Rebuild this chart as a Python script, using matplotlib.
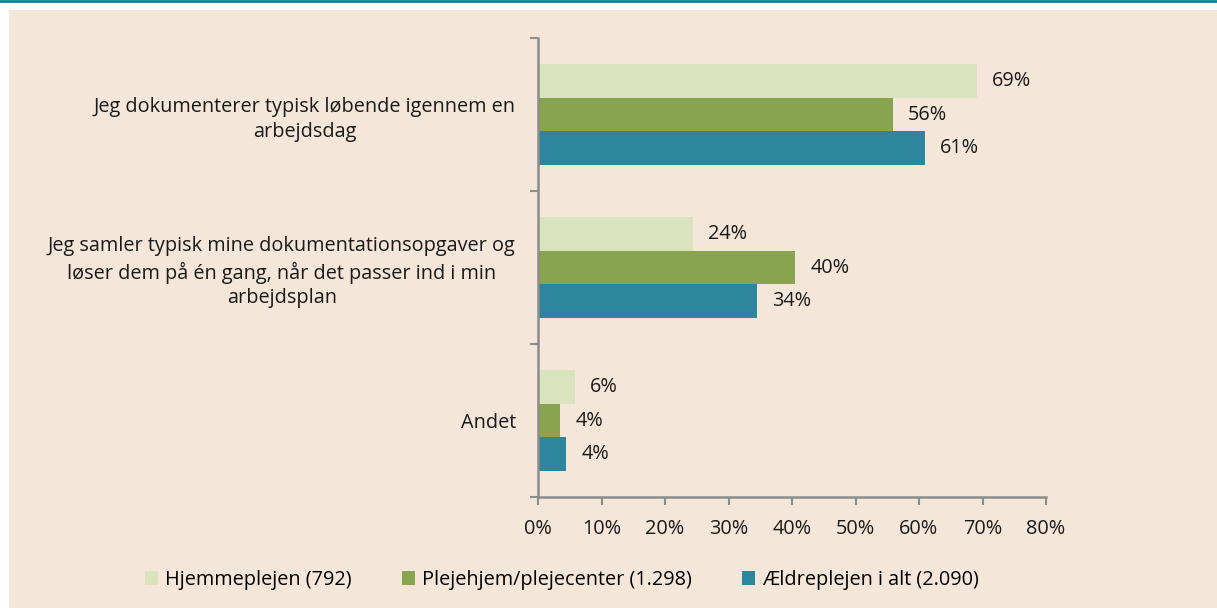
import numpy as np
import matplotlib.pyplot as plt
from matplotlib.patches import Rectangle
from matplotlib.lines import Line2D

plt.rcParams['font.family'] = ['Open Sans', 'DejaVu Sans']

categories = [
    'Jeg dokumenterer typisk løbende igennem en\narbejdsdag',
    'Jeg samler typisk mine dokumentationsopgaver og\nløser dem på én gang, når det passer ind i min\narbejdsplan',
    'Andet',
]
series = ['Hjemmeplejen (792)', 'Plejehjem/plejecenter (1.298)', 'Ældreplejen i alt (2.090)']
hjemmepleje = [69.1, 24.4, 5.8]
plejehjem = [55.9, 40.5, 3.5]
aeldrepleje = [60.9, 34.5, 4.4]
labels = [['69%', '24%', '6%'], ['56%', '40%', '4%'], ['61%', '34%', '4%']]
colors = ['#d9e4bf', '#88a44e', '#2e869e']

bg = '#f4e7da'
axcol = '#8c8c8c'
txt = '#1a1a1a'
fs = 14.3

fig = plt.figure(figsize=(12.17, 6.08), dpi=100)
fig.patches.append(Rectangle((9 / 1217, 0), 1, 1 - 10 / 608, transform=fig.transFigure,
                             facecolor=bg, edgecolor='none', zorder=-10))
fig.lines.append(Line2D([0, 1], [1 - 1 / 608, 1 - 1 / 608], transform=fig.transFigure,
                        color='#00819a', lw=2))

ax = fig.add_axes([538 / 1217, 1 - 497 / 608, 508 / 1217, 459 / 608])
ax.set_facecolor('none')

y = np.arange(len(categories))
h = 0.222
for i, vals in enumerate([hjemmepleje, plejehjem, aeldrepleje]):
    pos = y + (i - 1) * h
    ax.barh(pos, vals, height=h, color=colors[i], label=series[i])
    for p, v, t in zip(pos, vals, labels[i]):
        ax.annotate(t, (v, p), xytext=(11, 0), textcoords='offset points',
                    ha='left', va='center', fontsize=fs, color=txt)

ax.set_xlim(0, 80)
ax.set_ylim(2.5, -0.5)
ax.set_xticks(np.arange(0, 81, 10))
ax.set_xticklabels([f'{v}%' for v in range(0, 81, 10)], fontsize=fs, color=txt)
ax.set_yticks(y)
ax.set_yticklabels(categories, fontsize=fs, color=txt, multialignment='center',
                   linespacing=1.3)
ax.set_yticks([-0.5, 0.5, 1.5, 2.5], minor=True)
ax.tick_params(axis='y', which='major', length=0, pad=16)
ax.tick_params(axis='y', which='minor', length=6, width=1.5, color=axcol, direction='out')
ax.tick_params(axis='x', length=6, width=1.5, color=axcol, direction='out', pad=10)

for s in ['top', 'right']:
    ax.spines[s].set_visible(False)
for s in ['left', 'bottom']:
    ax.spines[s].set_color(axcol)
    ax.spines[s].set_linewidth(1.8)

fig.legend(loc='center', bbox_to_anchor=(562 / 1217, 1 - 580 / 608), ncol=3,
           frameon=False, fontsize=fs, handlelength=0.65, handleheight=0.65,
           handletextpad=0.35, columnspacing=2.55)

fig.savefig('out.png', dpi=100)
